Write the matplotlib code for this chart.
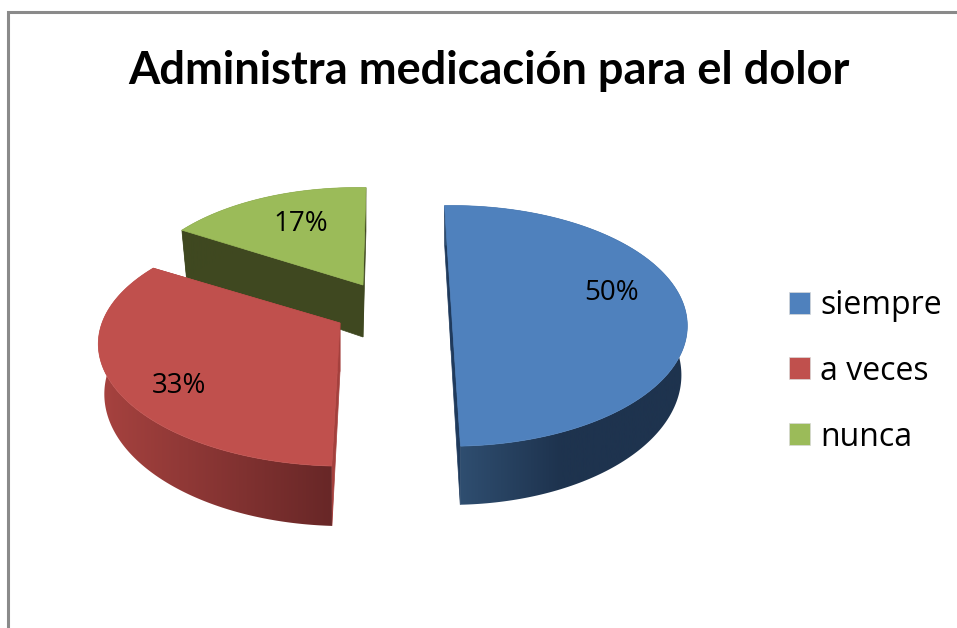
import matplotlib
matplotlib.use('Agg')
import matplotlib.pyplot as plt
from matplotlib.colors import to_rgb
from matplotlib.patches import Polygon, Rectangle
import numpy as np

title = 'Administra medicación para el dolor'
labels = ['siempre', 'a veces', 'nunca']
values = [50, 33, 17]

colors = ['#4f81bd', '#c0504d', '#9bbb59']
cut_colors = ['#1f3a5c', '#a4403d', '#3f4820']
side_left = ['#2f4e70', '#a6423f', '#3f4820']
side_right = ['#1e334e', '#682727', '#3f4820']

# pixel layout of each exploded slice
centers = [(451, 303), (340, 323), (363, 285)]
widths = [232, 238, 229]
shears = [0, -3.7, -6.4]
rotation = [-1.9, 2.5, 2.5]
depths = [47.5, 48.5, 52]
grad_x = [(459, 560), (103, 332), (182, 363)]
label_pos = [(612, 293), (179, 386), (301, 224)]
legend_y = [303, 368, 434]
text_y = [306, 371, 437]
draw_order = [2, 0, 1]

tilt = 116
persp = 0.19
shrink = 0.975


def project(i, theta, r=1.0):
    t = np.radians(theta)
    a = r * np.sin(t)
    b = r * np.cos(t)
    w = 1 + persp * b
    x = centers[i][0] + (widths[i] * a + shears[i] * b) / w
    y = centers[i][1] - tilt * b / w
    # lower rim of the slice
    xb = centers[i][0] + (x - centers[i][0]) * shrink
    yb = y + depths[i] / w
    return x, y, xb, yb


fig = plt.figure(figsize=(9.57, 6.28), dpi=100)
ax = fig.add_axes([0, 0, 1, 1])

# chart frame, only left and top show in the crop
ax.plot([8, 8, 957], [628, 12, 12], color='#8a8a8a', lw=2.2, solid_joinstyle='miter')

angles = 360 * np.cumsum([0] + values) / sum(values)
for z, i in enumerate(draw_order):
    th = np.linspace(angles[i], angles[i + 1], 200) + rotation[i]
    x, y, xb, yb = project(i, th)
    x0, y0, x0b, y0b = project(i, 0, 0)
    level = 2 + z

    # flat cut faces
    for end in [0, -1]:
        pts = [(x0, y0), (x[end], y[end]), (xb[end], yb[end]), (x0b, y0b)]
        ax.add_patch(Polygon(pts, fc=cut_colors[i], ec=cut_colors[i], lw=0.5, zorder=level))

    # curved outer wall with horizontal gradient
    pts = np.column_stack([np.r_[x, xb[::-1]], np.r_[y, yb[::-1]]])
    wall = Polygon(pts, fc='none', ec='none', zorder=level)
    ax.add_patch(wall)
    xmin = min(grad_x[i][0], pts[:, 0].min())
    xmax = max(grad_x[i][1], pts[:, 0].max())
    gx = np.linspace(xmin, xmax, 256)
    c0 = to_rgb(side_left[i])
    c1 = to_rgb(side_right[i])
    ramp = np.zeros((1, 256, 3))
    for k in range(3):
        ramp[0, :, k] = np.interp(gx, grad_x[i], [c0[k], c1[k]])
    im = ax.imshow(ramp, extent=[xmin, xmax, 628, 0], aspect='auto', zorder=level + 0.1)
    im.set_clip_path(wall)

    top = np.column_stack([np.r_[x0, x], np.r_[y0, y]])
    ax.add_patch(Polygon(top, fc=colors[i], ec=colors[i], lw=0.5, zorder=level + 0.2))

for i in range(3):
    ax.text(label_pos[i][0], label_pos[i][1], f'{values[i]}%', fontsize=20, family='Open Sans',
            ha='center', va='center', color='black', zorder=9)
    ax.add_patch(Rectangle((789, legend_y[i] - 11), 21, 22, fc=colors[i], ec='#d8d8d8', lw=0.5, zorder=9))
    ax.text(820, text_y[i], labels[i], fontsize=23, family='Open Sans', ha='left',
            va='center', color='black', zorder=9)

ax.text(489, 71, title, fontsize=32.5, family='Lato', fontweight='bold', ha='center',
        va='center', color='black', zorder=9)

ax.set_xlim(0, 957)
ax.set_ylim(628, 0)
ax.axis('off')

fig.savefig('out.png', dpi=100)
